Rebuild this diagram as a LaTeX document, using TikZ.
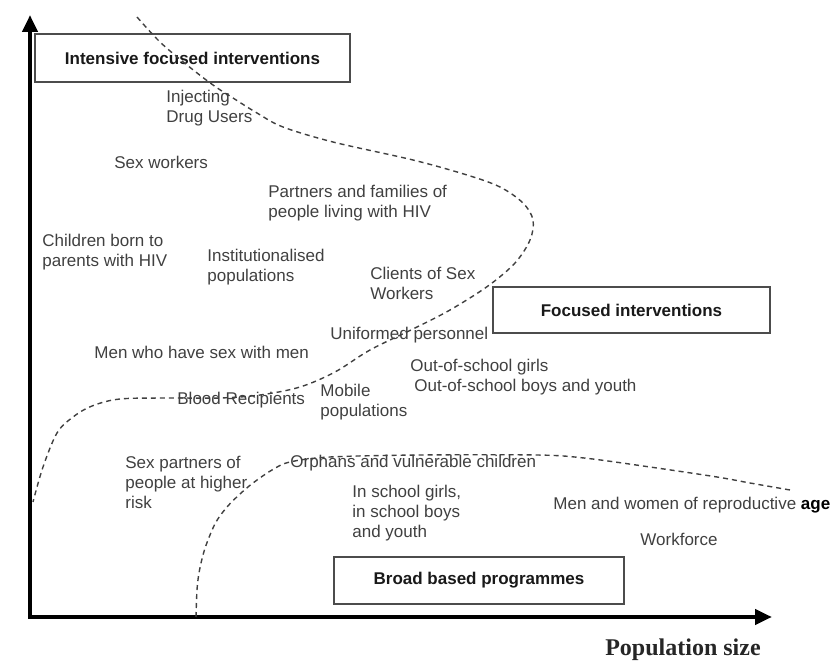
\documentclass[tikz,border=0pt]{standalone}
\usepackage{fontspec}
\setmainfont{Liberation Sans}
\newfontfamily\axisfont{Liberation Serif}
\usetikzlibrary{
    arrows.meta,
    positioning
}

\begin{document}
\begin{tikzpicture}[
        x=0.5pt, y=-0.5pt,
        every node/.style={font=\fontsize{8.5}{10}\selectfont},
        group/.style={
            text=black!75,
            align=left,
            anchor=west,
            inner sep=0pt
        },
        level/.style={
            rectangle,
            draw=black!70,
            line width=0.7pt,
            font=\fontsize{8.5}{10}\selectfont\bfseries,
            text=black!90,
            align=center,
            inner sep=0pt
        },
        axis/.style={
            {Triangle[length=8.5pt,width=7.5pt]}-{Triangle[length=8.5pt,width=7.5pt]},
            line width=2.2pt,
            line join=miter
        },
        border/.style={dash pattern=on 2.5pt off 2pt,line width=0.7pt,draw=black!75}
    ]
        \useasboundingbox (0,0) rectangle (837,663);

        \coordinate (origin) at (30,617);
        \coordinate (ytip) at (30,15);
        \coordinate (xtip) at (772,617);
        \draw[axis] (ytip) -- (origin) -- (xtip);

        \node[level, minimum width=157.5pt, minimum height=24pt] (intensive) at (192.5,58) {Intensive focused interventions};
        \node[level, minimum width=138.5pt, minimum height=23pt] (focused) at (631.5,310) {Focused interventions};
        \node[level, minimum width=145pt, minimum height=23.5pt] (broad) at (479,580.5) {Broad based programmes};

        \node[group] (idu) at (166,108.5) {Injecting\\Drug Users};
        \node[group] (sexwork) at (114,162) {Sex workers};
        \node[group] (partners) at (268,203) {Partners and families of\\people living with HIV};
        \node[group] (children) at (42,252) {Children born to\\parents with HIV};
        \node[group] (instit) at (207,267) {Institutionalised\\populations};
        \node[group] (clients) at (370,283) {Clients of Sex\\Workers};
        \node[group] (uniform) at (330,335) {Uniformed personnel};
        \node[group] (msm) at (94,352) {Men who have sex with men};
        \node[group] (oosgirls) at (410,367) {Out-of-school girls};
        \node[group] (oosboys) at (414,387) {Out-of-school boys and youth};
        \node[group] (blood) at (177,400) {Blood Recipients};
        \node[group] (mobile) at (320,402) {Mobile\\populations};
        \node[group] (orphans) at (290,463) {Orphans and vulnerable children};
        \node[group] (sexpart) at (125,482) {Sex partners of\\people at higher\\risk};
        \node[group] (inschool) at (352,513) {In school girls,\\in school boys\\and youth};
        \node[group] (repro) at (553,505) {Men and women of reproductive {\color{black}\bfseries age}};
        \node[group, anchor=center] (workforce) at (679,539) {Workforce};
        \node[font=\axisfont\fontsize{12}{14}\selectfont\bfseries, text=black!85] (popsize) at (683,650) {Population size};

        \draw[border] plot[smooth, tension=0.55] coordinates {
            (137,17) (160,42) (187,65) (213,85) (233,98) (257,113) (283,127)
            (333,142) (413,160) (467,175) (500,187) (523,203) (533,220)
            (530,240) (515,263) (488,286) (450,310) (413,329) (370,350)
            (335,372) (300,387) (260,395) (220,398) (170,398) (120,399)
            (92,406) (73,417) (57,433) (43,467) (33,502)};
        \draw[border] plot[smooth, tension=0.55] coordinates {
            (196,617) (197,590) (199,573) (203,555) (208,540) (216,522)
            (227,507) (240,494) (253,483) (272,470) (290,462) (330,457)
            (420,455) (537,455) (584,458) (650,467) (717,477) (750,483) (790,490)};
    \end{tikzpicture}
\end{document}
